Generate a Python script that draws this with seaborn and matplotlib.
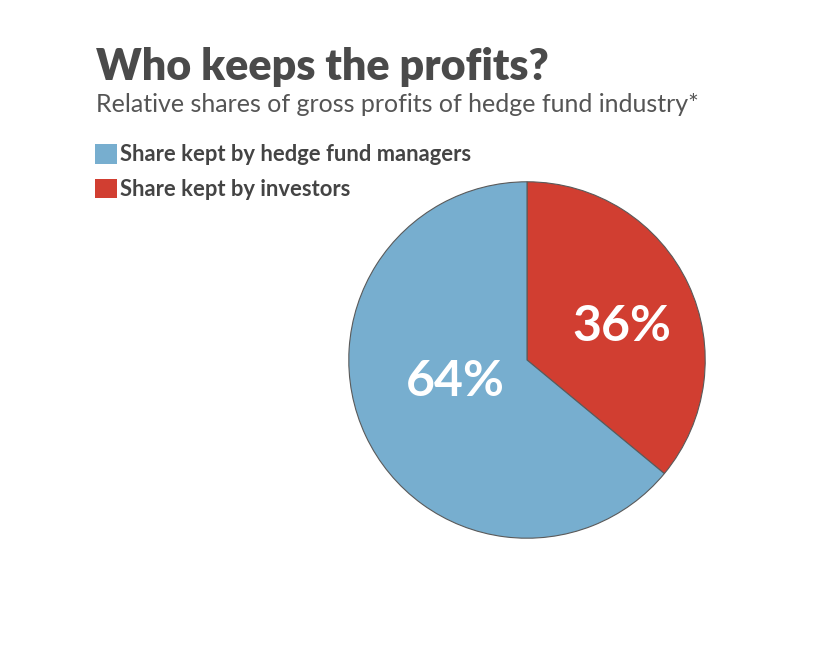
import seaborn as sns
import matplotlib.pyplot as plt

# data
labels = ['Share kept by investors', 'Share kept by hedge fund managers']
shares = [36, 64]
pct_text = ['36%', '64%']
colors = ['#d13e31', '#77aecf']

sns.set_theme(style='white')
plt.rcParams['font.family'] = ['Lato', 'DejaVu Sans']

fig = plt.figure(figsize=(8.32, 6.48), dpi=100)
fig.patch.set_facecolor('white')

# pie axes: centre ~ (527, 360) px, radius ~180 px
ax = fig.add_axes([347 / 832, (648 - 540) / 648, 360 / 832, 360 / 648])
wedges, _ = ax.pie(shares, colors=colors, startangle=90, counterclock=False,
                   radius=1, wedgeprops={'edgecolor': '#5a5a5a', 'linewidth': 0.8})
ax.set_xlim(-1.01, 1.01)
ax.set_ylim(-1.01, 1.01)
ax.set_aspect('equal')
ax.axis('off')

# percentage labels inside the slices
label_pos = [(0.53, 0.19), (-0.40, -0.12)]
for txt, (x, y) in zip(pct_text, label_pos):
    ax.text(x, y, txt, ha='center', va='center', color='white',
            fontsize=36, fontweight='bold')

fig.text(96 / 832, 1 - 80 / 648, 'Who keeps the profits?', fontsize=31,
         fontweight='heavy', color='#4a4a4a', va='baseline', ha='left')
fig.text(96 / 832, 1 - 112 / 648,
         'Relative shares of gross profits of hedge fund industry*',
         fontsize=18, color='#555555', va='baseline', ha='left')

# legend: managers first, investors second
leg = fig.legend([wedges[1], wedges[0]], [labels[1], labels[0]],
                 loc='upper left', bbox_to_anchor=(95 / 832, 1 - 144 / 648),
                 frameon=False, fontsize=15.8, handlelength=1.0, handleheight=1.0,
                 handletextpad=0.15, labelspacing=0.6, borderpad=0,
                 borderaxespad=0)
for t in leg.get_texts():
    t.set_color('#444444')
    t.set_fontweight('bold')
for h in leg.legend_handles:
    h.set_edgecolor('none')

fig.savefig('out.png', dpi=100)
